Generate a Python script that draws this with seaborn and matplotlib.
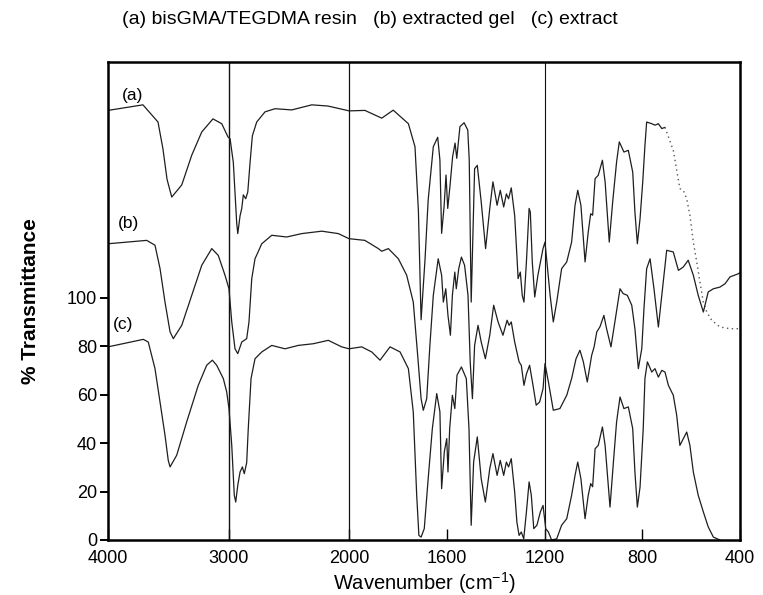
import numpy as np
import pandas as pd
import matplotlib
matplotlib.use("Agg")
import matplotlib.pyplot as plt
import seaborn as sns

# ---- data (wavenumber, cm-1 / % transmittance in axis units) ----
wn_a = [4000, 3710, 3585, 3544, 3510, 3471, 3388, 3305, 3222, 3129, 3056, 3004, 2987, 2960, 2932, 2923,
        2904, 2890, 2877, 2857, 2840, 2821, 2802, 2766, 2697, 2614, 2475, 2309, 2174, 2033, 2000, 1935,
        1866, 1819, 1757, 1730, 1716, 1705, 1689, 1676, 1655, 1637, 1628, 1621, 1611, 1603, 1596, 1587,
        1576, 1566, 1559, 1546, 1529, 1514, 1508, 1500, 1486, 1475, 1459, 1441, 1424, 1411, 1394, 1381,
        1367, 1356, 1347, 1336, 1322, 1313, 1308, 1299, 1291, 1284, 1274, 1263, 1258, 1250, 1240, 1227,
        1206, 1198, 1177, 1164, 1150, 1130, 1109, 1089, 1075, 1064, 1051, 1034, 1021, 1011, 1003, 993,
        980, 963, 952, 935, 921, 905, 894, 875, 857, 839, 830, 820, 809, 798, 789, 782, 761, 748, 734,
        720, 707, 673, 646, 632, 618, 605, 591, 577, 564, 550, 536, 516, 482, 440, 400]
t_a = [177.5, 179.8, 172.7, 161.6, 149, 141.7, 146.7, 159, 168.6, 174, 172, 166.5, 165.8, 156, 131, 126.6,
       134, 137, 142.6, 141, 143.8, 156, 167, 172.7, 176.9, 178.2, 177.7, 179.8, 179.3, 177.7, 177.3, 177.5,
       174.3, 177.6, 172, 162.5, 136, 91, 115.7, 140.5, 162.5, 166.4, 157, 126.7, 137.7, 150.8, 137, 146,
       158.4, 164, 157.7, 170.8, 172.4, 169.4, 157, 98.3, 153.4, 154.8, 139.7, 120.4, 137, 148, 138.3, 144.5,
       137.6, 143, 141, 145.5, 134, 117.6, 108, 110.7, 101, 98.3, 114.9, 137, 135.5, 114.9, 100.4, 109.4,
       120.4, 123.1, 101.1, 90.1, 98.3, 112.1, 114.9, 123.1, 138.3, 144.5, 138.3, 114.9, 127.3, 134.8, 134.2, 149.3,
       150.7, 156.9, 148, 123.1, 139.7, 156.2, 164.5, 160.3, 161, 152, 135.5, 122.4, 132.8, 148, 163, 172.7, 172, 171.4, 172,
       170, 170.5, 161, 145.2, 144.5, 141, 134.2, 123.1, 114.9, 106.6, 98.3, 94.2, 90.8, 88, 87.3, 87.3]

wn_b = [4000, 3679, 3610, 3568, 3527, 3485, 3458, 3388, 3305, 3222, 3139, 3085, 3029, 2996, 2973, 2946,
        2923, 2890, 2849, 2830, 2807, 2780, 2724, 2641, 2517, 2392, 2226, 2089, 2000, 1935, 1880, 1866,
        1839, 1798, 1764, 1737, 1719, 1705, 1696, 1682, 1669, 1655, 1635, 1621, 1614, 1604, 1595, 1585,
        1577, 1567, 1561, 1551, 1540, 1527, 1513, 1504, 1495, 1486, 1472, 1459, 1442, 1424, 1408, 1390,
        1370, 1353, 1345, 1336, 1322, 1304, 1295, 1284, 1274, 1261, 1247, 1234, 1220, 1206, 1198, 1184,
        1164, 1137, 1109, 1089, 1071, 1055, 1041, 1025, 1007, 997, 986, 973, 957, 946, 928, 912, 891,
        878, 861, 843, 830, 816, 802, 793, 782, 768, 752, 734, 720, 700, 673, 652, 632, 612, 591, 571,
        550, 530, 509, 482, 461, 441, 407, 400]
t_b = [122.4, 123.8, 121.8, 112.1, 98.3, 86, 83.2, 88.7, 101.1, 113.5, 120.4, 117.6, 109.4, 103.8, 90.1, 79,
       77, 81.8, 83.2, 90.1, 108, 116.2, 122.4, 125.9, 125.2, 126.6, 127.6, 126.6, 124.5, 123.8, 120.4, 119.3,
       120.4, 116.2, 109.4, 98.3, 76.3, 58.4, 53.6, 58.4, 80.4, 101.1, 116.2, 109.4, 98.3, 103.8, 92.8, 84.6,
       101.1, 110.7, 103.8, 112.1, 116.9, 113.5, 101.1, 73.6, 58.4, 80.4, 88.7, 81.8, 74.9, 84.6, 97, 90.1,
       84.6, 90.8, 88.7, 90.1, 81.8, 73.6, 72.2, 63.9, 68.6, 72.2, 63.9, 55.7, 57, 62.5, 72.9, 65.3,
       53.6, 54.3, 59.8, 66.7, 74.9, 78.4, 73.6, 65.3, 76.3, 79.8, 86, 88.1, 92.8, 87.3, 79.8, 90.1, 103.8,
       101.8, 101.1, 97, 87.3, 70.8, 79, 95.6, 112.1, 116.2, 103.8, 88, 101.1, 119.7, 119, 111.4, 112.8, 115.6, 109.4, 101.1,
       94.2, 102.5, 103.8, 104.5, 105.9, 108.7, 110, 110.5]

wn_c = [4000, 3707, 3666, 3610, 3568, 3527, 3500, 3485, 3430, 3347, 3251, 3181, 3134, 3098, 3070, 3043,
        3015, 2996, 2973, 2952, 2940, 2923, 2904, 2885, 2869, 2849, 2836, 2813, 2780, 2724, 2641, 2531,
        2421, 2296, 2172, 2061, 2000, 1948, 1907, 1873, 1832, 1791, 1757, 1737, 1723, 1714, 1705, 1692,
        1676, 1659, 1641, 1628, 1621, 1610, 1600, 1595, 1588, 1577, 1567, 1558, 1540, 1520, 1509, 1500,
        1490, 1475, 1459, 1442, 1424, 1411, 1394, 1381, 1367, 1356, 1347, 1336, 1322, 1313, 1304, 1295,
        1285, 1274, 1263, 1254, 1244, 1231, 1217, 1206, 1195, 1184, 1171, 1150, 1130, 1109, 1089, 1075,
        1064, 1051, 1034, 1021, 1011, 1003, 993, 980, 963, 952, 932, 918, 905, 891, 875, 857, 839, 830,
        820, 809, 796, 789, 779, 761, 748, 734, 720, 707, 693, 673, 659, 646, 632, 618, 605, 591, 571,
        550, 530, 509, 482]
t_c = [79.8, 82.9, 81.8, 70.8, 57, 43.3, 32.9, 30.2, 35, 48.8, 63.9, 72.2, 74.3, 72.2, 69.4, 66.7,
       61.2, 54.3, 39.1, 18.5, 15.7, 22.6, 28.1, 30.2, 27.4, 32, 46, 66.7, 74.9, 77.7, 80.4, 79,
       80.4, 81.1, 82.5, 79.8, 79, 79.8, 77.7, 74.3, 79.8, 77.7, 70.8, 52.9, 18.5, 1.9, 1.2, 4.7,
       25.3, 46, 60.5, 53, 21.2, 36.4, 41.9, 28.1, 46, 59.8, 54.3, 68.1, 71.5, 66.7, 46, 6.1,
       32.2, 42.6, 25.3, 15.7, 29.5, 35.7, 26.7, 32.9, 26.7, 32.2, 30.2, 33.6, 19.8, 7.4, 1.9, 3.3,
       0.5, 11.6, 24, 18.5, 4.7, 6.1, 11.6, 14.3, 4.7, 3.3, 0, 0.5, 6.1, 8.8, 18.5, 26.7,
       32.2, 25.3, 8.8, 18.5, 23.3, 22, 37.7, 39.1, 46.7, 39.1, 13.6, 32.2, 48.8, 59.1, 54.3, 55, 46, 28.1,
       13.6, 21.9, 46, 66.7, 73.6, 69.4, 70.8, 67.3, 70.1, 69.4, 63.9, 59.8, 51.5, 39.1, 41.9, 44.6, 39.1, 28.1, 18.5,
       11.6, 5.4, 1.2, 0]

curve_labels = ["(a)", "(b)", "(c)"]
label_pos_wn = [3886, 3917, 3959]
label_pos_t = [183.5, 130.8, 89.0]
x_ticks = [4000, 3000, 2000, 1600, 1200, 800, 400]
y_ticks = [0, 20, 40, 60, 80, 100]
title_text = "(a) bisGMA/TEGDMA resin   (b) extracted gel   (c) extract"

for w, t in ((wn_a, t_a), (wn_b, t_b), (wn_c, t_c)):
    assert len(w) == len(t), (len(w), len(t))

# ---- style ----
sns.set_theme(style="ticks")
plt.rcParams["font.family"] = ["Liberation Sans", "DejaVu Sans"]
plt.rcParams["mathtext.default"] = "regular"

fig = plt.figure(figsize=(7.63, 5.95), dpi=100)
ax = fig.add_axes([108 / 763, 55 / 595, 632 / 763, 478 / 595])

line_col = "#1e1e1e"
df_a = pd.DataFrame({"wn": wn_a, "t": t_a})
df_b = pd.DataFrame({"wn": wn_b, "t": t_b})
df_c = pd.DataFrame({"wn": wn_c, "t": t_c})

sns.lineplot(data=df_a[df_a.wn >= 707], x="wn", y="t", ax=ax, color=line_col, lw=0.9,
             estimator=None, sort=False)
sns.lineplot(data=df_a[df_a.wn <= 707], x="wn", y="t", ax=ax, color="#555555", lw=1.0,
             ls=(0, (1, 2.5)), estimator=None, sort=False)
sns.lineplot(data=df_b, x="wn", y="t", ax=ax, color=line_col, lw=0.9, estimator=None, sort=False)
sns.lineplot(data=df_c, x="wn", y="t", ax=ax, color=line_col, lw=0.9, estimator=None, sort=False)


def fwd(x):
    x = np.asarray(x, dtype=float)
    return np.where(x >= 2000, (x - 2000) * 241 / 2000, (x - 2000) * 391 / 1600)


def inv(y):
    y = np.asarray(y, dtype=float)
    return np.where(y >= 0, 2000 + y * 2000 / 241, 2000 + y * 1600 / 391)


ax.set_xscale("function", functions=(fwd, inv))
ax.set_xlim(4000, 400)
ax.set_ylim(0, 197.5)

for v, lw in ((3000, 1.0), (2000, 0.9), (1200, 0.8)):
    ax.axvline(v, color="#111111", lw=lw, zorder=1)

ax.set_xticks(x_ticks)
ax.set_xticklabels([str(v) for v in x_ticks])
ax.set_yticks(y_ticks)
ax.set_yticklabels([str(v) for v in y_ticks])
ax.tick_params(axis="x", direction="in", length=8, width=1.0, labelsize=13, pad=7, colors="black")
ax.tick_params(axis="y", direction="out", length=6, width=1.4, labelsize=13, pad=2, colors="black")
for s in ax.spines.values():
    s.set_linewidth(1.8)
    s.set_color("black")

ax.set_xlabel("Wavenumber (cm$^{-1}$)", fontsize=14.5, color="black")
ax.xaxis.set_label_coords(0.5, -0.063)
ax.set_ylabel("% Transmittance", fontsize=15, fontweight="bold", color="black")
ax.yaxis.set_label_coords(-0.108, 0.5)

for lab, xw, yt in zip(curve_labels, label_pos_wn, label_pos_t):
    ax.text(xw, yt, lab, fontsize=12.5, ha="left", va="center", color="black")

fig.text(370 / 763, 1 - 20 / 595, title_text, fontsize=14, ha="center", va="center", color="black")

fig.savefig("out.png", dpi=100)
